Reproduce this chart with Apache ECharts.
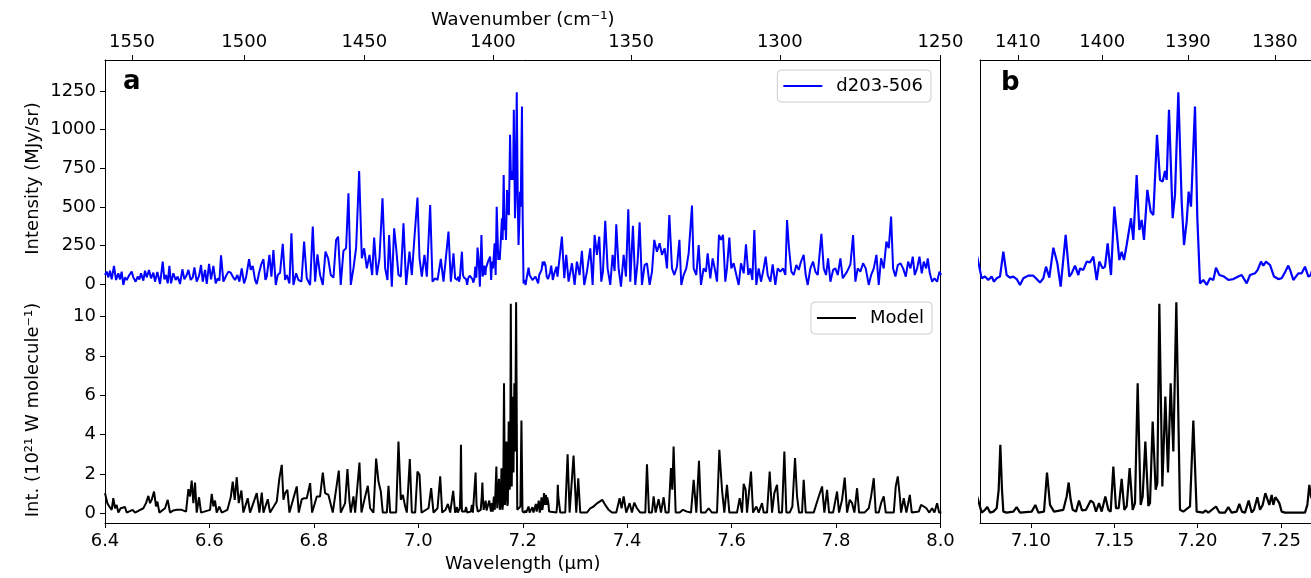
<!DOCTYPE html>
<html>
<head>
<meta charset="utf-8">
<title>d203-506 spectrum and model</title>
<script src="https://cdn.jsdelivr.net/npm/echarts@6/dist/echarts.min.js"></script>
<style>
  html, body { margin: 0; padding: 0; background: #ffffff; }
  #chart { width: 1311px; height: 578px; }
</style>
</head>
<body>
<div id="chart"></div>
<script>
// Observed spectrum of d203-506: [wavelength (µm), intensity (MJy/sr)]
const obsBlueWing = [
  [6.4000,60],[6.4032,82],[6.4064,45],[6.4096,88],[6.4128,32],[6.4172,119],[6.4211,28],[6.4255,71],[6.4287,32],[6.4319,82],
  [6.4351,-4],[6.4383,45],[6.4415,28],[6.4466,60],[6.4511,82],[6.4543,45],[6.4587,17],[6.4626,50],[6.4658,32],[6.4690,71],
  [6.4734,24],[6.4766,88],[6.4798,45],[6.4843,93],[6.4881,39],[6.4926,75],[6.4958,17],[6.5003,80],[6.5054,2],[6.5105,147],
  [6.5137,32],[6.5169,60],[6.5201,6],[6.5233,119],[6.5264,6],[6.5309,71],[6.5354,28],[6.5392,50],[6.5437,2],[6.5482,97],
  [6.5520,32],[6.5565,60],[6.5597,93],[6.5641,28],[6.5680,45],[6.5712,110],[6.5756,17],[6.5801,54],[6.5839,125],[6.5871,17],
  [6.5916,93],[6.5948,2],[6.5993,132],[6.6031,32],[6.6076,119],[6.6120,6],[6.6159,39],[6.6191,24],[6.6222,188],[6.6267,17],
  [6.6318,54],[6.6363,82],[6.6408,75],[6.6446,50],[6.6491,28],[6.6535,60],[6.6574,17],[6.6618,103],[6.6663,6],[6.6701,45],
  [6.6759,162],[6.6791,93],[6.6829,119],[6.6874,28],[6.6906,2],[6.6951,75],[6.6989,125],[6.7034,162],[6.7072,28],[6.7098,50],
  [6.7149,190],[6.7187,50],[6.7225,222],[6.7270,-4],[6.7308,60],[6.7353,75],[6.7404,261],[6.7449,28],[6.7481,60],[6.7532,6],
  [6.7570,330],[6.7608,-4],[6.7660,71],[6.7704,28],[6.7762,17],[6.7813,276],[6.7864,39],[6.7928,-4],[6.7979,373],[6.8024,17],
  [6.8068,194],[6.8119,60],[6.8171,-4],[6.8222,211],[6.8273,168],[6.8324,60],[6.8375,43],[6.8426,287],[6.8464,308],[6.8515,-4],
  [6.8566,216],[6.8617,233],[6.8662,589],[6.8707,-4],[6.8758,103],[6.8809,237],[6.8867,733],[6.8918,168],[6.8963,233],[6.9014,103],
  [6.9065,190],[6.9116,60],[6.9154,302],[6.9205,60],[6.9256,168],[6.9314,556],[6.9365,103],[6.9409,28],[6.9441,319],[6.9493,-15],
  [6.9537,362],[6.9576,233],[6.9620,60],[6.9665,50],[6.9716,395],[6.9767,-4],[6.9831,211],[6.9876,60],[6.9927,308],[6.9984,561],
  [7.0023,168],[7.0067,50],[7.0118,190],[7.0163,50],[7.0227,513],[7.0272,17],[7.0323,39],[7.0368,28],[7.0431,164],[7.0482,17],
  [7.0527,168],[7.0578,341],[7.0623,17],[7.0674,200]
];
const obsBand = [
  [7.0705,39],[7.0725,50],[7.0745,28],[7.0765,50],[7.0779,17],[7.0795,39],[7.0815,50],[7.0835,211],[7.0855,60],[7.0875,43],
  [7.0895,50],[7.0915,34],[7.0935,-4],[7.0955,39],[7.0985,56],[7.1015,56],[7.1035,34],[7.1055,11],[7.1075,39],[7.1091,114],
  [7.1111,43],[7.1135,237],[7.1159,136],[7.1179,-15],[7.1209,319],[7.1231,50],[7.1245,71],[7.1265,121],[7.1285,60],[7.1295,103],
  [7.1315,93],[7.1335,147],[7.1355,142],[7.1375,179],[7.1395,28],[7.1411,147],[7.1431,103],[7.1445,114],[7.1461,265],[7.1481,60],
  [7.1501,502],[7.1515,341],[7.1531,157],[7.1545,211],[7.1559,157],[7.1575,254],[7.1601,427],[7.1615,287],[7.1635,707],[7.1651,351],
  [7.1665,416],[7.1679,287],[7.1699,610],[7.1719,470],[7.1735,448],[7.1757,966],[7.1775,675],[7.1791,664],[7.1805,733],[7.1815,675],
  [7.1829,1128],[7.1851,427],[7.1865,578],[7.1885,1242],[7.1905,535],[7.1919,254],[7.1935,405],[7.1947,599],[7.1961,502],[7.1985,1149],
  [7.1999,427],[7.2015,6],[7.2035,28],[7.2055,-4],[7.2075,39],[7.2095,28],[7.2111,108],[7.2131,60],[7.2159,50],[7.2185,28],
  [7.2215,34],[7.2245,50],[7.2265,60],[7.2295,6],[7.2315,60],[7.2345,71],[7.2361,93],[7.2381,147],[7.2395,121],[7.2411,147],
  [7.2435,125],[7.2459,50],[7.2485,34],[7.2505,39],[7.2525,78],[7.2545,121],[7.2559,82],[7.2575,28],[7.2605,71],[7.2625,71],
  [7.2645,114],[7.2665,50],[7.2679,60]
];
const obsRedWing = [
  [7.2750,308],[7.2795,39],[7.2833,190],[7.2878,17],[7.2942,136],[7.2993,-4],[7.3037,147],[7.3088,60],[7.3133,216],[7.3178,-4],
  [7.3229,82],[7.3293,233],[7.3338,-4],[7.3376,319],[7.3421,190],[7.3465,308],[7.3504,17],[7.3536,82],[7.3580,410],[7.3625,103],
  [7.3676,-4],[7.3721,190],[7.3759,86],[7.3791,388],[7.3836,103],[7.3881,-15],[7.3932,190],[7.3976,50],[7.4021,485],[7.4059,17],
  [7.4110,379],[7.4155,-4],[7.4200,147],[7.4238,401],[7.4283,-4],[7.4334,125],[7.4379,136],[7.4430,-4],[7.4475,82],[7.4519,287],
  [7.4570,211],[7.4621,265],[7.4666,190],[7.4717,233],[7.4762,103],[7.4807,448],[7.4858,103],[7.4902,60],[7.4953,114],[7.5000,287],
  [7.5036,-4],[7.5081,60],[7.5132,103],[7.5177,200],[7.5241,509],[7.5273,103],[7.5324,60],[7.5369,254],[7.5413,-4],[7.5464,103],
  [7.5509,82],[7.5541,200],[7.5592,39],[7.5637,168],[7.5688,82],[7.5720,17],[7.5758,319],[7.5796,287],[7.5835,319],[7.5879,17],
  [7.5911,103],[7.5956,302],[7.5994,103],[7.6039,136],[7.6090,60],[7.6135,-4],[7.6180,136],[7.6231,71],[7.6275,259],[7.6320,60],
  [7.6358,103],[7.6397,28],[7.6435,351],[7.6473,-4],[7.6518,103],[7.6563,17],[7.6614,103],[7.6652,179],[7.6691,60],[7.6742,17],
  [7.6786,129],[7.6837,-4],[7.6882,103],[7.6933,82],[7.6984,103],[7.7029,60],[7.7061,416],[7.7099,233],[7.7144,82],[7.7189,60],
  [7.7240,125],[7.7285,93],[7.7329,147],[7.7380,190],[7.7419,60],[7.7457,-4],[7.7508,103],[7.7559,147],[7.7604,82],[7.7649,60],
  [7.7687,207],[7.7719,326],[7.7764,103],[7.7808,60],[7.7847,168],[7.7892,17],[7.7943,93],[7.7987,103],[7.8032,60],[7.8083,168],
  [7.8128,39],[7.8166,50],[7.8211,82],[7.8275,129],[7.8326,319],[7.8370,17],[7.8415,103],[7.8466,82],[7.8517,136],[7.8568,103],
  [7.8626,-4],[7.8671,60],[7.8722,103],[7.8773,190],[7.8817,-4],[7.8862,168],[7.8913,103],[7.8964,276],[7.9009,233],[7.9054,438],
  [7.9092,103],[7.9137,50],[7.9182,125],[7.9233,136],[7.9284,103],[7.9335,50],[7.9380,147],[7.9425,103],[7.9469,179],[7.9507,60],
  [7.9552,103],[7.9597,179],[7.9641,71],[7.9680,147],[7.9725,103],[7.9756,168],[7.9795,71],[7.9840,17],[7.9884,39],[7.9935,17],
  [7.9980,82],[8.0012,60]
];

// Model emission: [wavelength (µm), intensity (10^21 W molecule^-1)]
const modelBlueWing = [
  [6.4000,1.02],[6.4045,0.51],[6.4083,0.34],[6.4128,0.17],[6.4159,0.76],[6.4191,0.25],[6.4223,0.42],[6.4255,0.03],[6.4300,0.25],[6.4338,0.31],
  [6.4383,0.31],[6.4415,0.03],[6.4530,0.17],[6.4575,0.03],[6.4734,0.25],[6.4785,0.51],[6.4830,0.88],[6.4862,0.51],[6.4894,0.68],[6.4939,1.10],
  [6.4977,0.34],[6.5003,0.59],[6.5041,0.03],[6.5150,0.25],[6.5201,0.68],[6.5245,0.03],[6.5309,0.14],[6.5373,0.17],[6.5469,0.17],[6.5552,0.08],
  [6.5597,1.22],[6.5628,0.85],[6.5660,1.66],[6.5692,0.51],[6.5724,1.56],[6.5756,0.03],[6.5801,0.81],[6.5839,0.03],[6.6012,0.17],[6.6044,0.98],
  [6.6076,0.34],[6.6107,0.64],[6.6139,0.03],[6.6190,0.34],[6.6235,0.03],[6.6344,0.17],[6.6408,0.81],[6.6446,1.61],[6.6484,0.68],[6.6523,1.83],
  [6.6561,0.51],[6.6612,1.15],[6.6650,0.03],[6.6733,0.76],[6.6778,0.03],[6.6906,1.02],[6.6957,0.03],[6.7002,1.05],[6.7034,0.03],[6.7117,0.71],
  [6.7161,0.03],[6.7289,0.59],[6.7340,1.78],[6.7385,2.46],[6.7417,0.68],[6.7449,1.02],[6.7493,1.19],[6.7532,0.03],[6.7672,1.36],[6.7711,0.03],
  [6.7768,0.71],[6.7813,0.76],[6.7864,0.76],[6.7928,1.53],[6.7966,0.03],[6.8056,0.85],[6.8119,0.85],[6.8171,2.07],[6.8215,1.02],[6.8279,0.93],
  [6.8311,0.85],[6.8362,0.03],[6.8477,2.17],[6.8515,0.03],[6.8598,0.51],[6.8643,2.25],[6.8681,0.64],[6.8707,0.03],[6.8758,0.85],[6.8790,0.03],
  [6.8873,2.58],[6.8911,0.03],[6.8982,0.85],[6.9033,1.39],[6.9077,0.25],[6.9141,0.03],[6.9192,2.78],[6.9237,1.61],[6.9282,1.10],[6.9320,0.03],
  [6.9397,0.03],[6.9429,1.39],[6.9461,0.03],[6.9576,0.03],[6.9620,3.65],[6.9665,0.68],[6.9703,0.93],[6.9748,0.34],[6.9780,0.03],[6.9837,2.75],
  [6.9876,0.03],[6.9940,0.03],[6.9984,2.12],[7.0023,1.95],[7.0061,0.03],[7.0195,0.25],[7.0246,1.27],[7.0291,0.03],[7.0368,0.25],[7.0419,1.87],
  [7.0457,0.03],[7.0521,0.17],[7.0566,0.47],[7.0610,0.03],[7.0668,1.14]
];
const modelBand = [
  [7.0705,0.03],[7.0725,0.17],[7.0739,0.31],[7.0755,0.03],[7.0775,0.08],[7.0795,0.25],[7.0807,1.19],[7.0817,3.48],[7.0827,1.19],[7.0835,0.08],
  [7.0855,0.03],[7.0895,0.08],[7.0915,0.31],[7.0935,0.03],[7.1005,0.08],[7.1027,0.42],[7.1045,0.03],[7.1079,0.08],[7.1097,2.07],[7.1115,0.42],
  [7.1125,0.51],[7.1139,0.08],[7.1195,0.17],[7.1215,0.85],[7.1227,1.56],[7.1239,0.68],[7.1251,0.17],[7.1271,0.08],[7.1289,0.64],[7.1307,0.14],
  [7.1331,0.17],[7.1359,0.64],[7.1375,0.54],[7.1391,0.08],[7.1409,0.51],[7.1425,0.08],[7.1447,0.85],[7.1465,0.17],[7.1479,0.08],[7.1495,2.37],
  [7.1511,0.25],[7.1527,0.25],[7.1545,1.75],[7.1561,0.17],[7.1575,0.34],[7.1593,2.29],[7.1611,0.17],[7.1625,0.51],[7.1641,6.61],[7.1659,0.42],
  [7.1671,0.85],[7.1687,3.65],[7.1705,0.37],[7.1715,0.51],[7.1731,4.66],[7.1749,1.19],[7.1759,1.53],[7.1771,10.65],[7.1789,1.36],[7.1807,5.93],
  [7.1823,2.07],[7.1839,6.61],[7.1855,3.14],[7.1873,10.73],[7.1895,0.17],[7.1915,0.08],[7.1955,0.34],[7.1975,4.71],[7.1995,0.08],[7.2035,0.03],
  [7.2047,0.14],[7.2065,0.03],[7.2111,0.34],[7.2131,0.03],[7.2165,0.03],[7.2185,0.31],[7.2205,0.03],[7.2235,0.08],[7.2251,0.47],[7.2267,0.08],
  [7.2285,0.03],[7.2307,0.64],[7.2325,0.03],[7.2339,0.17],[7.2359,0.81],[7.2375,0.17],[7.2391,0.42],[7.2407,1.02],[7.2421,0.68],[7.2431,0.42],
  [7.2445,0.93],[7.2455,0.42],[7.2467,0.81],[7.2479,0.68],[7.2491,0.51],[7.2505,0.08],[7.2525,0.03],[7.2645,0.03],[7.2659,0.42],[7.2671,1.44],
  [7.2681,0.85]
];
const modelRedWing = [
  [7.2718,0.03],[7.2814,0.03],[7.2859,3.00],[7.2897,0.03],[7.2935,0.03],[7.2973,2.93],[7.3025,0.03],[7.3063,1.78],[7.3101,0.03],[7.3229,0.03],
  [7.3293,0.25],[7.3357,0.34],[7.3408,0.47],[7.3472,0.59],[7.3523,0.68],[7.3580,0.42],[7.3644,0.17],[7.3708,0.03],[7.3791,0.03],[7.3855,0.76],
  [7.3893,0.25],[7.3932,0.85],[7.3982,0.03],[7.4046,0.51],[7.4091,0.03],[7.4136,0.54],[7.4187,0.25],[7.4251,0.03],[7.4347,0.03],[7.4379,2.49],
  [7.4417,0.03],[7.4474,0.03],[7.4506,0.85],[7.4545,0.03],[7.4602,0.71],[7.4647,0.03],[7.4698,0.81],[7.4736,0.03],[7.4794,0.03],[7.4838,2.29],
  [7.4864,1.19],[7.4889,3.39],[7.4928,0.03],[7.5004,0.03],[7.5068,0.17],[7.5145,0.08],[7.5222,0.03],[7.5273,1.70],[7.5324,0.03],[7.5375,2.66],
  [7.5413,0.03],[7.5496,0.03],[7.5560,0.25],[7.5624,0.03],[7.5720,0.03],[7.5765,3.22],[7.5816,1.19],[7.5860,0.03],[7.5911,1.44],[7.5956,0.03],
  [7.6103,0.03],[7.6154,0.76],[7.6199,0.03],[7.6231,1.49],[7.6269,1.19],[7.6295,0.03],[7.6333,0.03],[7.6371,2.12],[7.6410,0.03],[7.6474,0.34],
  [7.6518,0.03],[7.6582,0.51],[7.6614,0.03],[7.6678,0.03],[7.6729,2.12],[7.6774,0.03],[7.6818,1.02],[7.6869,1.44],[7.6908,0.03],[7.6965,0.03],
  [7.7010,3.14],[7.7048,0.03],[7.7112,0.03],[7.7163,0.34],[7.7214,2.80],[7.7253,0.85],[7.7291,0.03],[7.7348,0.03],[7.7380,1.70],[7.7419,0.03],
  [7.7572,0.03],[7.7668,0.85],[7.7732,1.36],[7.7776,0.03],[7.7828,1.19],[7.7866,0.03],[7.7943,0.03],[7.8019,1.10],[7.8057,0.03],[7.8115,0.68],
  [7.8166,1.81],[7.8211,0.03],[7.8262,0.68],[7.8307,0.51],[7.8351,0.03],[7.8402,1.27],[7.8441,0.03],[7.8543,0.03],[7.8626,0.25],[7.8671,0.85],
  [7.8722,1.78],[7.8760,0.03],[7.8817,0.03],[7.8862,0.51],[7.8913,0.85],[7.8952,0.03],[7.9105,0.03],[7.9143,1.36],[7.9182,1.87],[7.9220,0.88],
  [7.9245,0.03],[7.9296,0.76],[7.9347,0.03],[7.9412,0.93],[7.9450,0.03],[7.9584,0.08],[7.9628,0.42],[7.9679,0.34],[7.9730,0.25],[7.9782,0.03],
  [7.9839,0.25],[7.9884,0.03],[7.9935,0.51],[7.9973,0.03],[8.0018,0.03]
];

// Tick values
const wavenumberTicksA = [1550, 1500, 1450, 1400, 1350, 1300, 1250];
const wavenumberTicksB = [1410, 1400, 1390, 1380];
const wavelengthTicksB = [7.10, 7.15, 7.20, 7.25];
const intensityTicks = [0, 250, 500, 750, 1000, 1250];
const modelTicks = [0, 2, 4, 6, 8, 10];

const observed = [...obsBlueWing, ...obsBand, ...obsRedWing];
const model = [...modelBlueWing, ...modelBand, ...modelRedWing];

const FONT = 'DejaVu Sans';
const INK = '#000000';
const spine = { show: true, onZero: false, lineStyle: { color: INK, width: 1 } };
const tickStyle = { color: INK, width: 1 };
const toWavelength = (wn) => 1e4 / wn;

// Full range (panel a) and zoomed band (panel b)
const rangeA = { min: 6.4, max: 8.0 };
const rangeB = { min: 7.0695, max: 7.2681 };
const obsRange = { min: -82, max: 1450 };
const modelRange = { min: -0.5, max: 11 };

function wavenumberAxis(gridIndex, range, ticks, name) {
  const vals = ticks.map(toWavelength);
  return {
    gridIndex, type: 'value', position: 'top', min: range.min, max: range.max,
    name: name || '', nameLocation: 'middle', nameGap: 31, nameMoveOverlap: false,
    nameTextStyle: { fontFamily: FONT, fontSize: 18, color: INK },
    axisLine: spine,
    axisTick: { show: true, length: 5, customValues: vals, lineStyle: tickStyle },
    axisLabel: { customValues: vals, formatter: (v) => String(Math.round(1e4 / v)),
                 fontFamily: FONT, fontSize: 18, color: INK, margin: 9 },
    splitLine: { show: false }
  };
}

function spineOnly(gridIndex, range, position) {
  return {
    gridIndex, type: 'value', position, min: range.min, max: range.max,
    axisLine: spine, axisTick: { show: false }, axisLabel: { show: false }, splitLine: { show: false }
  };
}

function valueAxis(gridIndex, range, ticks, name) {
  return {
    gridIndex, type: 'value', position: 'left', min: range.min, max: range.max,
    name, nameLocation: 'middle', nameGap: 63, nameRotate: 90, nameMoveOverlap: false,
    nameTextStyle: { fontFamily: FONT, fontSize: 18, color: INK },
    axisLine: spine,
    axisTick: { show: true, length: 5, customValues: ticks, lineStyle: tickStyle },
    axisLabel: { customValues: ticks, formatter: (v) => String(v),
                 fontFamily: FONT, fontSize: 18, color: INK, margin: 9 },
    splitLine: { show: false }
  };
}

function legendBox(name, right, top) {
  return {
    data: [name], right, top, selectedMode: false,
    icon: 'rect', itemWidth: 39, itemHeight: 2, padding: [7, 8, 7, 6],
    backgroundColor: 'rgba(255,255,255,0.85)', borderColor: '#cccccc', borderWidth: 1, borderRadius: 4,
    textStyle: { fontFamily: FONT, fontSize: 18, color: INK, padding: [0, 0, 0, 9] }
  };
}

const chart = echarts.init(document.getElementById('chart'), null, { renderer: 'canvas' });

chart.setOption({
  animation: false,
  backgroundColor: '#ffffff',
  textStyle: { fontFamily: FONT },
  grid: [
    { left: 105, top: 60, width: 835.5, height: 237, outerBoundsMode: 'none' },
    { left: 105, top: 297, width: 835.5, height: 226, outerBoundsMode: 'none' },
    { left: 980, top: 60, width: 331, height: 237, outerBoundsMode: 'none' },
    { left: 980, top: 297, width: 331, height: 226, outerBoundsMode: 'none' }
  ],
  xAxis: [
    wavenumberAxis(0, rangeA, wavenumberTicksA, 'Wavenumber (cm\u207B\u00B9)'),
    {
      gridIndex: 1, type: 'value', position: 'bottom', min: rangeA.min, max: rangeA.max, interval: 0.2,
      name: 'Wavelength (\u00B5m)', nameLocation: 'middle', nameGap: 32, nameMoveOverlap: false,
      nameTextStyle: { fontFamily: FONT, fontSize: 18, color: INK },
      axisLine: spine,
      axisTick: { show: true, length: 5, lineStyle: tickStyle },
      axisLabel: { formatter: (v) => v.toFixed(1), fontFamily: FONT, fontSize: 18, color: INK, margin: 9 },
      splitLine: { show: false }
    },
    wavenumberAxis(2, rangeB, wavenumberTicksB, ''),
    {
      gridIndex: 3, type: 'value', position: 'bottom', min: rangeB.min, max: rangeB.max,
      axisLine: spine,
      axisTick: { show: true, length: 5, customValues: wavelengthTicksB, lineStyle: tickStyle },
      axisLabel: { customValues: wavelengthTicksB, formatter: (v) => v.toFixed(2),
                   fontFamily: FONT, fontSize: 18, color: INK, margin: 9 },
      splitLine: { show: false }
    }
  ],
  yAxis: [
    valueAxis(0, obsRange, intensityTicks, 'Intensity (MJy/sr)'),
    spineOnly(0, obsRange, 'right'),
    valueAxis(1, modelRange, modelTicks, 'Int. (10\u00B2\u00B9 W molecule\u207B\u00B9)'),
    spineOnly(1, modelRange, 'right'),
    spineOnly(2, obsRange, 'left'),
    spineOnly(3, modelRange, 'left')
  ],
  legend: [
    legendBox('d203-506', 380, 70),
    legendBox('Model', 379, 302)
  ],
  graphic: [
    { type: 'text', left: 123, top: 69, style: { text: 'a', font: 'bold 26px "DejaVu Sans"', fill: INK } },
    { type: 'text', left: 1001, top: 70, style: { text: 'b', font: 'bold 26px "DejaVu Sans"', fill: INK } }
  ],
  series: [
    { name: 'd203-506', type: 'line', xAxisIndex: 0, yAxisIndex: 0, data: observed, symbol: 'none',
      lineStyle: { color: '#0000ff', width: 2 }, itemStyle: { color: '#0000ff' }, clip: true },
    { name: 'Model', type: 'line', xAxisIndex: 1, yAxisIndex: 2, data: model, symbol: 'none',
      lineStyle: { color: INK, width: 2 }, itemStyle: { color: INK }, clip: true },
    { name: 'd203-506', type: 'line', xAxisIndex: 2, yAxisIndex: 4, data: observed, symbol: 'none',
      lineStyle: { color: '#0000ff', width: 2.2 }, itemStyle: { color: '#0000ff' }, clip: true },
    { name: 'Model', type: 'line', xAxisIndex: 3, yAxisIndex: 5, data: model, symbol: 'none',
      lineStyle: { color: INK, width: 2.2 }, itemStyle: { color: INK }, clip: true }
  ]
});
</script>
</body>
</html>
